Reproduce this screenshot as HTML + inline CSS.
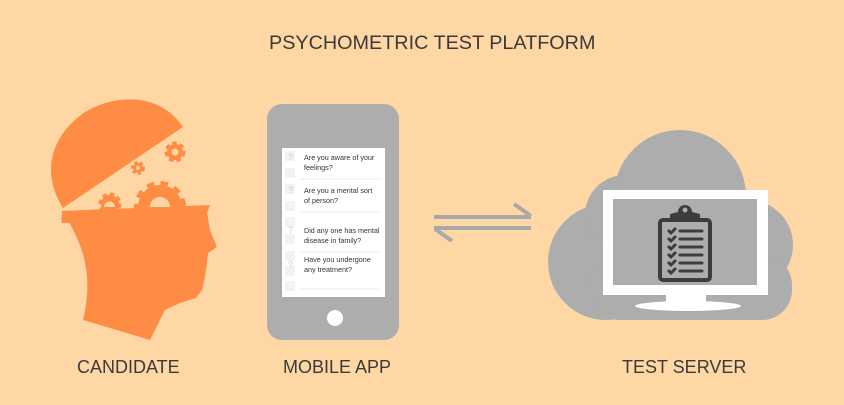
<!DOCTYPE html>
<html><head><style>
html,body{margin:0;padding:0;background:#FFD7A5;}
body{width:844px;height:405px;position:relative;overflow:hidden;font-family:"Liberation Sans",sans-serif;}
.t{position:absolute;color:#3a3a3a;font-size:18px;white-space:nowrap;line-height:1;}
</style></head><body>
<div class="t" style="left:269px;top:34px;font-size:19.8px;">PSYCHOMETRIC TEST PLATFORM</div>
<div class="t" style="left:77px;top:358px;">CANDIDATE</div>
<div class="t" style="left:283px;top:358px;">MOBILE APP</div>
<div class="t" style="left:622px;top:358px;">TEST SERVER</div>
<svg width="844" height="405" style="position:absolute;left:0;top:0">
<g fill="#FF8C45">
<path d="M63,208 C42,175 48,138 85,112 C115,94 160,92 183,127 Z"/>
<path d="M62,211 L210,205 L207,213 L210,230 L217,247 L208,253 L207,263 L205,277 L202,290 L196,298 L180,303 L165,310 L150,340 L83,320 C90,290 92,255 62,211 Z"/>
<circle cx="160" cy="207" r="22" stroke="#FF8C45" stroke-width="8" stroke-dasharray="7 6"/>
<circle cx="110" cy="204" r="9" stroke="#FF8C45" stroke-width="5" stroke-dasharray="4 3"/>
<circle cx="138" cy="168" r="5" stroke="#FF8C45" stroke-width="4" stroke-dasharray="3 2"/>
<circle cx="175" cy="152" r="8" stroke="#FF8C45" stroke-width="5" stroke-dasharray="4 3"/>
</g>
<clipPath id="hc"><path d="M62,211 L210,205 L207,213 L210,230 L217,247 L208,253 L60,260 Z"/></clipPath>
<rect x="40" y="209" width="185" height="14" fill="#FF8C45" clip-path="url(#hc)"/>
<path d="M150,207 A10,10 0 0 1 170,207 Z" fill="#FFD7A5"/>
<path d="M104,207 A5,5 0 0 1 115,207 Z" fill="#FFD7A5"/>
<circle cx="138" cy="168" r="2" fill="#FFD7A5"/>
<circle cx="175" cy="152" r="3.5" fill="#FFD7A5"/>
<rect x="267" y="104" width="132" height="236" rx="15" fill="#ADADAD"/>
<rect x="282" y="148" width="103" height="149" fill="#fff"/>
<circle cx="335" cy="318" r="8" fill="#fff"/>
<g fill="#f2f2f2"><rect x="285" y="151" width="10" height="10"/><rect x="285" y="168" width="10" height="10"/><rect x="285" y="184" width="10" height="10"/><rect x="285" y="201" width="10" height="10"/><rect x="285" y="217" width="10" height="10"/><rect x="285" y="234" width="10" height="10"/><rect x="285" y="251" width="10" height="10"/><rect x="285" y="266" width="10" height="10"/><rect x="285" y="281" width="10" height="10"/></g>
<g stroke="#eee"><line x1="300" y1="179" x2="382" y2="179"/><line x1="300" y1="212" x2="382" y2="212"/><line x1="300" y1="252" x2="382" y2="252"/><line x1="300" y1="289" x2="382" y2="289"/></g>
<g font-family="Liberation Sans" font-size="7.2" fill="#333">
<text x="304" y="160">Are you aware of your</text><text x="304" y="170">feelings?</text>
<text x="304" y="193">Are you a mental sort</text><text x="304" y="203">of person?</text>
<text x="304" y="233">Did any one has mental</text><text x="304" y="243">disease in family?</text>
<text x="304" y="262">Have you undergone</text><text x="304" y="272">any treatment?</text>
</g>
<g fill="#ccc" font-size="9" font-family="Liberation Sans"><text x="288" y="160">?</text><text x="288" y="193">?</text><text x="288" y="233">?</text><text x="288" y="268">?</text></g>
<g stroke="#A9A9A9" stroke-width="4" fill="none">
<line x1="434" y1="217" x2="531" y2="217"/><line x1="514" y1="204" x2="531" y2="216"/>
<line x1="434" y1="228" x2="531" y2="228"/><line x1="435" y1="229" x2="452" y2="241"/>
</g>
<g fill="#ADADAD">
<circle cx="606" cy="262" r="58"/>
<circle cx="625" cy="215" r="40"/>
<circle cx="680" cy="196" r="66"/>
<circle cx="748" cy="245" r="45"/>
<rect x="590" y="255" width="202" height="65" rx="30"/>
</g>
<rect x="603" y="190" width="165" height="105" fill="#fff"/>
<rect x="613" y="199" width="144" height="86" fill="#ADADAD"/>
<rect x="666" y="294" width="40" height="10" fill="#fff"/>
<ellipse cx="688" cy="306" rx="53" ry="5" fill="#fff"/>
<rect x="660" y="220" width="50" height="60" rx="3" fill="#ADADAD" stroke="#3d3d3d" stroke-width="4"/>
<path d="M670,222 L670,214 L678,212 A7,7 0 0 1 692,212 L700,214 L700,222 Z" fill="#3d3d3d"/>
<circle cx="685" cy="210" r="2.5" fill="#ADADAD"/>
<g stroke="#3d3d3d" stroke-width="3" fill="none">
<path d="M668,230 l3,3 l5,-5 M668,238 l3,3 l5,-5 M668,246 l3,3 l5,-5 M668,254 l3,3 l5,-5 M668,262 l3,3 l5,-5 M668,270 l3,3 l5,-5"/>
<path d="M680,231 h22 M680,239 h22 M680,247 h22 M680,255 h22 M680,263 h22 M680,271 h22" stroke-linecap="round"/>
</g>
</svg>
</body></html>
